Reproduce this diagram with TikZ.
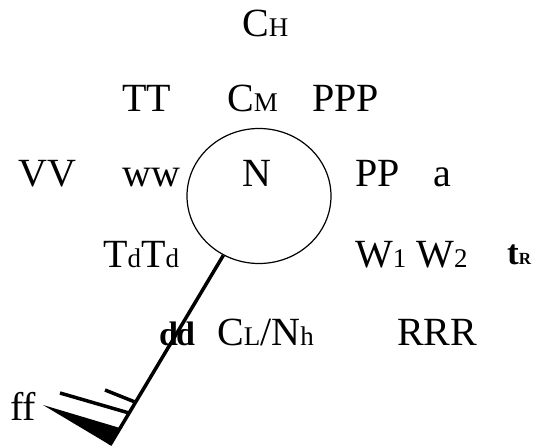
\documentclass[tikz,border=0pt]{standalone}
\usepackage{fontspec}
\setmainfont{Liberation Serif}
\usetikzlibrary{shapes.geometric}
\newcommand{\smsub}[1]{{\fontsize{27}{27}\selectfont #1}}

\begin{document}
\begin{tikzpicture}[x=1pt,y=-1pt]
	\tikzstyle{Lbl}=[anchor=base west,inner sep=0pt,font=\fontsize{40}{44}\selectfont]
	\tikzstyle{Shaft}=[line width=3.5pt]
	\useasboundingbox (0,0) rectangle (535,446);
	\node[draw,ellipse,line width=1.2pt,minimum width=144pt,minimum height=135pt] (stn) at (259,196) {};
	\node[Lbl] (ch) at (242,37) {C\smsub{H}};
	\node[Lbl] (tt) at (122,112) {TT};
	\node[Lbl] (cm) at (227,112) {C\smsub{M}};
	\node[Lbl] (ppp) at (312,112) {PPP};
	\node[Lbl] (vv) at (18,187) {VV};
	\node[Lbl] (ww) at (122,187) {ww};
	\node[Lbl] (n) at (242,187) {N};
	\node[Lbl] (pp) at (355,187) {PP};
	\node[Lbl] (a) at (433,187) {a};
	\node[Lbl] (tdtd) at (103,268) {T\smsub{d}T\smsub{d}};
	\node[Lbl] (w) at (355,267) {W\smsub{1} W\smsub{2}};
	\node[Lbl] (tr) at (507,265) {\fontsize{35}{38}\selectfont\bfseries t\fontsize{17}{18}\selectfont R};
	\node[Lbl] (dd) at (159,345) {\fontsize{34}{36}\selectfont\bfseries d\kern-2pt d};
	\node[Lbl] (cl) at (217,345) {C\smsub{L}/N\smsub{h}};
	\node[Lbl] (rrr) at (397,345) {RRR};
	\node[Lbl] (ff) at (10,420) {ff};
	\coordinate (tip) at (110,445);
	\coordinate (pen) at (43,405);
	\coordinate (s0) at (120,428);
	\coordinate (b1) at (60,393);
	\coordinate (s1) at (129,413);
	\coordinate (b2) at (105,390);
	\coordinate (s2) at (135,402);
	\draw[Shaft] (stn.-121) -- (tip);
	\fill (pen) -- (s0) -- (tip) -- cycle;
	\draw[Shaft] (b1) -- (s1);
	\draw[Shaft] (b2) -- (s2);
\end{tikzpicture}
\end{document}
